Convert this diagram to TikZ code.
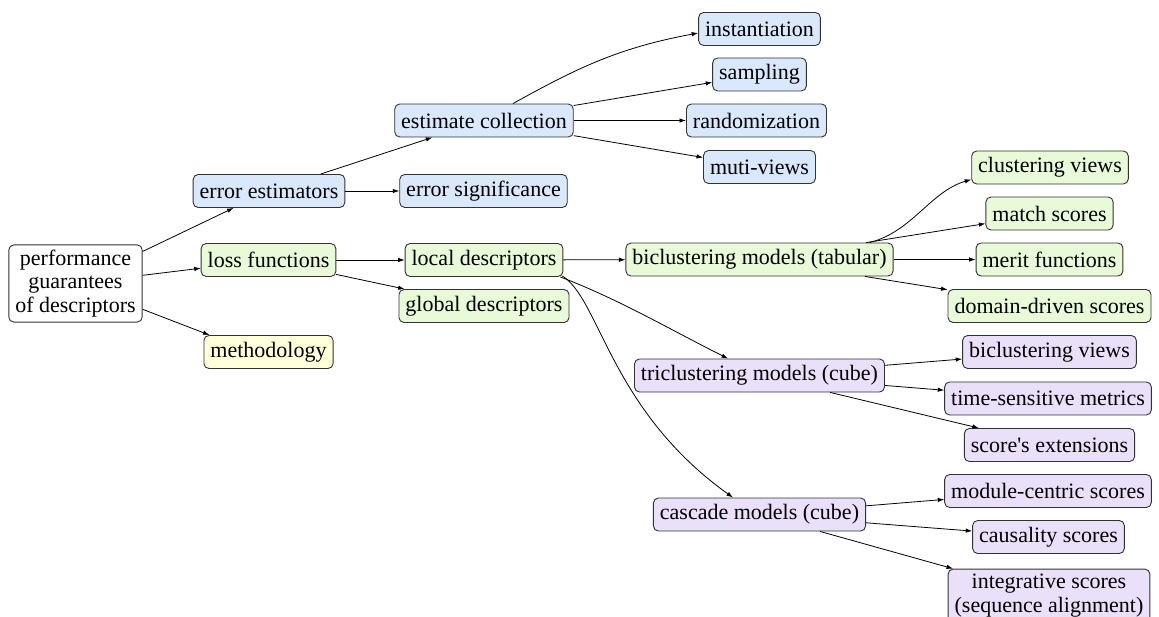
\documentclass[tikz,border=0pt]{standalone}
\usepackage{fontspec}
\setmainfont{Liberation Serif}[Ligatures=TeXOff]
\usetikzlibrary{arrows.meta}
\definecolor{cblue}{RGB}{218,232,252}
\definecolor{cgreen}{RGB}{232,250,216}
\definecolor{cyellow}{RGB}{255,255,218}
\definecolor{cpurple}{RGB}{234,224,250}
\definecolor{cborder}{RGB}{50,50,50}
\tikzset{
  box/.style={draw=cborder, line width=0.9pt, rounded corners=5pt, minimum height=33pt,
    inner xsep=6.5pt, inner ysep=5pt, font=\fontsize{22}{23.5}\selectfont, align=center},
  bbox/.style={box, fill=cblue},
  gbox/.style={box, fill=cgreen},
  ybox/.style={box, fill=cyellow},
  pbox/.style={box, fill=cpurple},
  wbox/.style={box, fill=white},
  arr/.style={draw=black, line width=0.8pt, -{Latex[length=6.5pt,width=4.5pt]}}
}
\begin{document}
\begin{tikzpicture}[x=1pt,y=-1pt]
\useasboundingbox (0,0) rectangle (1159,617);
% column 0
\node[wbox] (root) at (75.5,283.5) {performance\\guarantees\\of descriptors};
% column 1
\node[bbox] (errest) at (269,191) {error estimators};
\node[gbox] (loss) at (268.5,260) {loss functions};
\node[ybox] (meth) at (268.5,352) {methodology};
% column 2
\node[bbox] (estcoll) at (484,120.5) {estimate collection};
\node[bbox] (errsig) at (483.5,191) {error significance};
\node[gbox] (local) at (484,260) {local descriptors};
\node[gbox] (global) at (484,306) {global descriptors};
% column 3
\node[bbox] (inst) at (759.5,29) {instantiation};
\node[bbox] (samp) at (759.5,74.5) {sampling};
\node[bbox] (rand) at (756.5,120.5) {randomization};
\node[bbox] (muti) at (759.5,167) {muti-views};
\node[gbox] (bicl) at (759.5,259.5) {biclustering models (tabular)};
\node[pbox] (tricl) at (759.5,375.5) {triclustering models (cube)};
\node[pbox] (casc) at (759.5,514.5) {cascade models (cube)};
% column 4
\node[gbox] (clv) at (1050,167.5) {clustering views};
\node[gbox] (match) at (1049.5,213.5) {match scores};
\node[gbox] (merit) at (1049.5,259.5) {merit functions};
\node[gbox] (dom) at (1049.5,306) {domain-driven scores};
\node[pbox] (bicv) at (1049.5,352) {biclustering views};
\node[pbox] (tsm) at (1048,398.5) {time-sensitive metrics};
\node[pbox] (sext) at (1049.5,445) {score's extensions};
\node[pbox] (mod) at (1048,491) {module-centric scores};
\node[pbox] (caus) at (1048.5,537) {causality scores};
\node[pbox] (integ) at (1049,595.5) {integrative scores\\(sequence alignment)};
% edges
\draw[arr] (root) -- (errest);
\draw[arr] (root) -- (loss);
\draw[arr] (root) -- ([xshift=6pt]meth.north west);
\draw[arr] (errest) -- (estcoll);
\draw[arr] (errest) -- (errsig);
\draw[arr] (loss) -- (local);
\draw[arr] (loss) -- (global);
\draw[arr] ([xshift=29pt]estcoll.north) .. controls +(65,-36) and +(-80,15) .. ([yshift=-4pt]inst.west);
\draw[arr] (estcoll) -- (samp);
\draw[arr] (estcoll) -- (rand);
\draw[arr] (estcoll) -- (muti);
\draw[arr] (local) -- (bicl);
\draw[arr] ([xshift=-3pt]local.south east) .. controls +(60,23) and +(-58,-29) .. ([xshift=-31.5pt]tricl.north);
\draw[arr] ([xshift=-1pt,yshift=1pt]local.south east) .. controls +(38,24) and +(-123,-88) .. ([xshift=-26.5pt]casc.north);
\draw[arr] ([xshift=-24pt]bicl.north east) .. controls +(43,-11) and +(-41,12) .. ([yshift=-12pt]clv.west);
\draw[arr] (bicl) -- (match);
\draw[arr] (bicl) -- (merit);
\draw[arr] (bicl) -- (dom);
\draw[arr] (tricl) -- (bicv);
\draw[arr] (tricl) -- (tsm);
\draw[arr] (tricl) -- (sext);
\draw[arr] (casc) -- (mod);
\draw[arr] (casc) -- (caus);
\draw[arr] (casc) -- (integ);
\end{tikzpicture}
\end{document}
